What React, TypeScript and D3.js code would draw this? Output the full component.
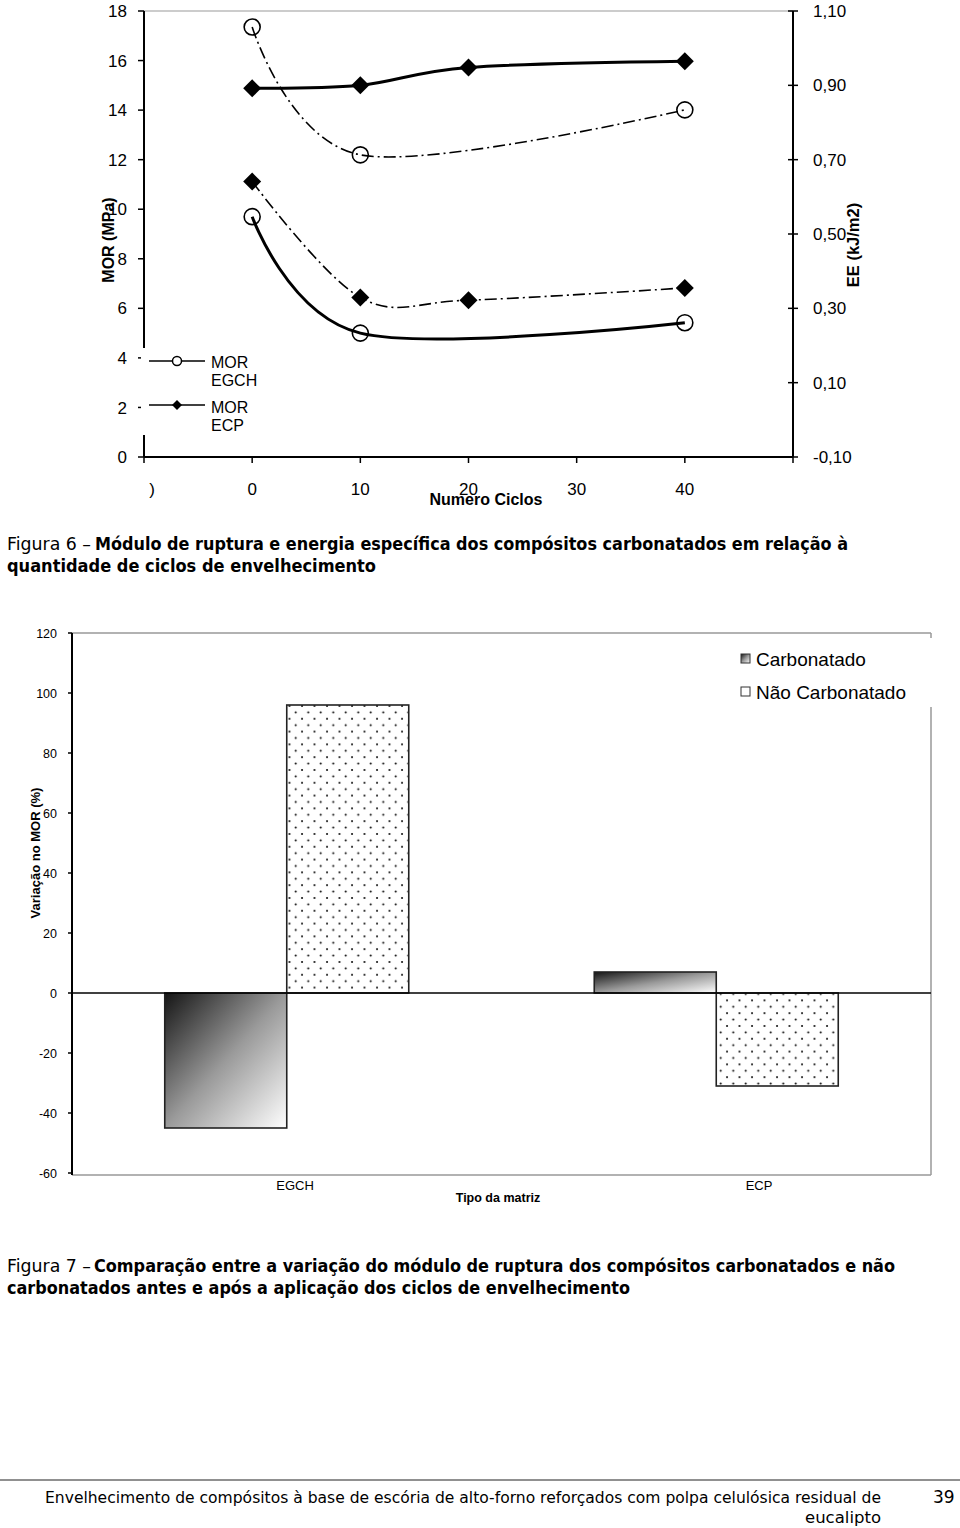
import React from "react";
import * as d3 from "d3";

// ---------- Figure 6 data ----------
const cyclesEGCH = [0, 10, 40];
const cyclesECP = [0, 10, 20, 40];
const morEGCH = [9.7, 5.0, 5.42];
const morECP = [14.88, 15.0, 15.72, 15.97];
const eeEGCH = [1.057, 0.713, 0.834];
const eeECP = [0.641, 0.329, 0.322, 0.355];
const xTicksTop = [-10, 0, 10, 20, 30, 40, 50];
const morTicks = [0, 2, 4, 6, 8, 10, 12, 14, 16, 18];
const eeTicks = [-0.1, 0.1, 0.3, 0.5, 0.7, 0.9, 1.1];

// ---------- Figure 7 data ----------
const barCategories = ["EGCH", "ECP"];
const barSeries = ["Carbonatado", "Não Carbonatado"];
const carbonatado = [-45, 7];
const naoCarbonatado = [96, -31];
const barTicks = [-60, -40, -20, 0, 20, 40, 60, 80, 100, 120];

const AR = "Liberation Sans, Arial, sans-serif";
const CAP = "DejaVu Sans, sans-serif";

function Diamond({ x, y, s = 9 }: { x: number; y: number; s?: number }) {
  return (
    <path
      d={`M${x},${y - s}L${x + s},${y}L${x},${y + s}L${x - s},${y}Z`}
      fill="#000"
    />
  );
}

export default function App() {
  // top chart scales
  const xT = d3.scaleLinear().domain([-10, 50]).range([144, 793]);
  const yM = d3.scaleLinear().domain([0, 18]).range([457, 11]);
  const yE = d3.scaleLinear().domain([-0.1, 1.1]).range([457, 11]);
  const curve = d3.curveCardinal.tension(0);
  const lineM = (xs: number[], ys: number[]) =>
    d3
      .line<number>()
      .x((_, i) => xT(xs[i]))
      .y((d) => yM(d))
      .curve(curve)(ys) as string;
  const lineE = (xs: number[], ys: number[]) =>
    d3
      .line<number>()
      .x((_, i) => xT(xs[i]))
      .y((d) => yE(d))
      .curve(curve)(ys) as string;

  // bar chart scales
  const xB = d3.scaleBand<string>().domain(barCategories).range([72, 931]).padding(0);
  const bw = xB.bandwidth();
  const barW = 122;
  const xInner = d3
    .scaleBand<string>()
    .domain(barSeries)
    .range([bw / 2 - barW, bw / 2 + barW])
    .padding(0);
  const yB = d3.scaleLinear().domain([-60, 120]).range([1173, 633]);
  const labelX = d3.scalePoint<string>().domain(barCategories).range([295, 759]);
  const seriesVals = [carbonatado, naoCarbonatado];

  const fmtEE = (v: number) => d3.format(".2f")(v).replace(".", ",").replace("\u2212", "-");

  return (
    <svg
      width={960}
      height={1528}
      style={{ position: "absolute", left: 0, top: 0, background: "#fff", fontFamily: AR }}
    >
      <defs>
        <linearGradient id="grad" x1="0" y1="0" x2="1" y2="1">
          <stop offset="0" stopColor="#151515" />
          <stop offset="0.5" stopColor="#9a9a9a" />
          <stop offset="1" stopColor="#ffffff" />
        </linearGradient>
        <pattern id="dots" patternUnits="userSpaceOnUse" width={12.5} height={12.8}>
          <rect width={12.5} height={12.8} fill="#fff" />
          <circle cx={2} cy={2} r={1} fill="#000" />
          <circle cx={8.25} cy={8.4} r={1} fill="#000" />
        </pattern>
      </defs>
      <rect width={960} height={1528} fill="#fff" />

      {/* ================= Figure 6 ================= */}
      <line x1={xT(-10)} x2={xT(50)} y1={11} y2={11} stroke="#999" strokeWidth={1.2} />
      {/* left axis */}
      <line x1={144} x2={144} y1={11} y2={457} stroke="#000" strokeWidth={2} />
      {morTicks.map((t) => (
        <g key={"m" + t}>
          <line x1={138} x2={144} y1={yM(t)} y2={yM(t)} stroke="#000" strokeWidth={1.5} />
          <text x={127} y={yM(t)} dy="0.36em" fontSize={17} textAnchor="end">
            {t}
          </text>
        </g>
      ))}
      {/* right axis */}
      <line x1={793} x2={793} y1={11} y2={457} stroke="#000" strokeWidth={2} />
      {eeTicks.map((t) => (
        <g key={"e" + t}>
          <line x1={788} x2={798} y1={yE(t)} y2={yE(t)} stroke="#000" strokeWidth={1.5} />
          <text x={813} y={yE(t)} dy="0.36em" fontSize={17}>
            {fmtEE(t)}
          </text>
        </g>
      ))}
      {/* bottom axis */}
      <line x1={144} x2={793} y1={457} y2={457} stroke="#000" strokeWidth={2} />
      {xTicksTop.map((t) => (
        <line key={"x" + t} x1={xT(t)} x2={xT(t)} y1={457} y2={463} stroke="#000" strokeWidth={1.5} />
      ))}
      {xTicksTop
        .filter((t) => t >= 0 && t <= 40)
        .map((t) => (
          <text key={"xl" + t} x={xT(t)} y={489} dy="0.36em" fontSize={17} textAnchor="middle">
            {t}
          </text>
        ))}
      <text x={152} y={489} dy="0.36em" fontSize={17} textAnchor="middle">
        )
      </text>
      <text x={486} y={499} dy="0.36em" fontSize={16} fontWeight="bold" textAnchor="middle">
        Numero Ciclos
      </text>
      <text
        transform="translate(108,240) rotate(-90)"
        fontSize={16}
        fontWeight="bold"
        textAnchor="middle"
        dy="0.36em"
      >
        MOR (MPa)
      </text>
      <text
        transform="translate(853,245) rotate(-90)"
        fontSize={16.5}
        fontWeight="bold"
        textAnchor="middle"
        dy="0.36em"
      >
        EE (kJ/m2)
      </text>

      {/* series */}
      <path d={lineM(cyclesEGCH, morEGCH)} fill="none" stroke="#000" strokeWidth={3} />
      <path d={lineM(cyclesECP, morECP)} fill="none" stroke="#000" strokeWidth={3} />
      <path
        d={lineE(cyclesEGCH, eeEGCH)}
        fill="none"
        stroke="#000"
        strokeWidth={1.6}
        strokeDasharray="12,4,2,4"
      />
      <path
        d={lineE(cyclesECP, eeECP)}
        fill="none"
        stroke="#000"
        strokeWidth={1.6}
        strokeDasharray="12,4,2,4"
      />
      {cyclesEGCH.map((c, i) => (
        <circle key={"c1" + i} cx={xT(c)} cy={yM(morEGCH[i])} r={8} fill="none" stroke="#000" strokeWidth={1.6} />
      ))}
      {cyclesEGCH.map((c, i) => (
        <circle key={"c2" + i} cx={xT(c)} cy={yE(eeEGCH[i])} r={8} fill="none" stroke="#000" strokeWidth={1.6} />
      ))}
      {cyclesECP.map((c, i) => (
        <Diamond key={"d1" + i} x={xT(c)} y={yM(morECP[i])} />
      ))}
      {cyclesECP.map((c, i) => (
        <Diamond key={"d2" + i} x={xT(c)} y={yE(eeECP[i])} />
      ))}

      {/* legend */}
      <rect x={141} y={348} width={125} height={87} fill="#fff" />
      <line x1={149} x2={205} y1={361} y2={361} stroke="#000" strokeWidth={1.5} />
      <circle cx={177} cy={361} r={4.5} fill="#fff" stroke="#000" strokeWidth={1.5} />
      <text x={211} y={362} dy="0.36em" fontSize={16}>MOR</text>
      <text x={211} y={380} dy="0.36em" fontSize={16}>EGCH</text>
      <line x1={149} x2={205} y1={405} y2={405} stroke="#000" strokeWidth={1.5} />
      <Diamond x={177} y={405} s={5} />
      <text x={211} y={407} dy="0.36em" fontSize={16}>MOR</text>
      <text x={211} y={425} dy="0.36em" fontSize={16}>ECP</text>

      {/* caption 6 */}
      <text x={7} y={550} fontFamily={CAP} fontSize={17} textLength={84} lengthAdjust="spacingAndGlyphs">
        Figura 6 –
      </text>
      <text x={95} y={550} fontFamily={CAP} fontSize={17} fontWeight="bold" textLength={753} lengthAdjust="spacingAndGlyphs">
        Módulo de ruptura e energia específica dos compósitos carbonatados em relação à
      </text>
      <text x={7} y={572} fontFamily={CAP} fontSize={17} fontWeight="bold" textLength={369} lengthAdjust="spacingAndGlyphs">
        quantidade de ciclos de envelhecimento
      </text>

      {/* ================= Figure 7 ================= */}
      <line x1={72} x2={931} y1={633} y2={633} stroke="#999" strokeWidth={1.5} />
      <line x1={931} x2={931} y1={633} y2={1175} stroke="#999" strokeWidth={1.5} />
      <line x1={72} x2={931} y1={1175} y2={1175} stroke="#999" strokeWidth={1.5} />
      {barCategories.map((cat, ci) =>
        barSeries.map((s, si) => {
          const v = seriesVals[si][ci];
          const x = (xB(cat) as number) + (xInner(s) as number);
          const y0 = yB(Math.max(0, v));
          const h = Math.abs(yB(v) - yB(0));
          return (
            <rect
              key={cat + s}
              x={x}
              y={y0}
              width={xInner.bandwidth()}
              height={h}
              fill={si === 0 ? "url(#grad)" : "url(#dots)"}
              stroke="#222"
              strokeWidth={1.6}
            />
          );
        })
      )}
      <line x1={72} x2={931} y1={yB(0)} y2={yB(0)} stroke="#000" strokeWidth={1.5} />
      <line x1={72} x2={72} y1={633} y2={1175} stroke="#000" strokeWidth={2} />
      {barTicks.map((t) => (
        <g key={"b" + t}>
          <line x1={68} x2={72} y1={yB(t)} y2={yB(t)} stroke="#000" strokeWidth={1.5} />
          <text x={57} y={yB(t)} dy="0.36em" fontSize={12.5} textAnchor="end">
            {t}
          </text>
        </g>
      ))}
      {barCategories.map((cat) => (
        <text key={"lab" + cat} x={labelX(cat)} y={1185} dy="0.36em" fontSize={13} textAnchor="middle">
          {cat}
        </text>
      ))}
      <text x={498} y={1197} dy="0.36em" fontSize={12.5} fontWeight="bold" textAnchor="middle">
        Tipo da matriz
      </text>
      <text
        transform="translate(35,853) rotate(-90)"
        fontSize={13}
        fontWeight="bold"
        textAnchor="middle"
        dy="0.36em"
      >
        Variação no MOR (%)
      </text>

      {/* legend */}
      <rect x={733} y={638} width={204} height={69} fill="#fff" />
      <rect x={741} y={654} width={9} height={9} fill="url(#grad)" stroke="#333" strokeWidth={1} />
      <text x={756} y={659} dy="0.36em" fontSize={19}>
        {barSeries[0]}
      </text>
      <rect x={741} y={687} width={9} height={9} fill="#fff" stroke="#333" strokeWidth={1} />
      <text x={756} y={692} dy="0.36em" fontSize={19}>
        {barSeries[1]}
      </text>

      {/* caption 7 */}
      <text x={7} y={1272} fontFamily={CAP} fontSize={17} textLength={84} lengthAdjust="spacingAndGlyphs">
        Figura 7 –
      </text>
      <text x={94} y={1272} fontFamily={CAP} fontSize={17} fontWeight="bold" textLength={801} lengthAdjust="spacingAndGlyphs">
        Comparação entre a variação do módulo de ruptura dos compósitos carbonatados e não
      </text>
      <text x={7} y={1294} fontFamily={CAP} fontSize={17} fontWeight="bold" textLength={623} lengthAdjust="spacingAndGlyphs">
        carbonatados antes e após a aplicação dos ciclos de envelhecimento
      </text>

      {/* footer */}
      <line x1={0} x2={960} y1={1480} y2={1480} stroke="#222" strokeWidth={1.2} />
      <text x={45} y={1503} fontFamily={CAP} fontSize={16.5} textLength={836} lengthAdjust="spacingAndGlyphs">
        Envelhecimento de compósitos à base de escória de alto-forno reforçados com polpa celulósica residual de
      </text>
      <text x={881} y={1523} fontFamily={CAP} fontSize={16.5} textAnchor="end">
        eucalipto
      </text>
      <text x={933} y={1503} fontFamily={CAP} fontSize={17}>
        39
      </text>
    </svg>
  );
}
